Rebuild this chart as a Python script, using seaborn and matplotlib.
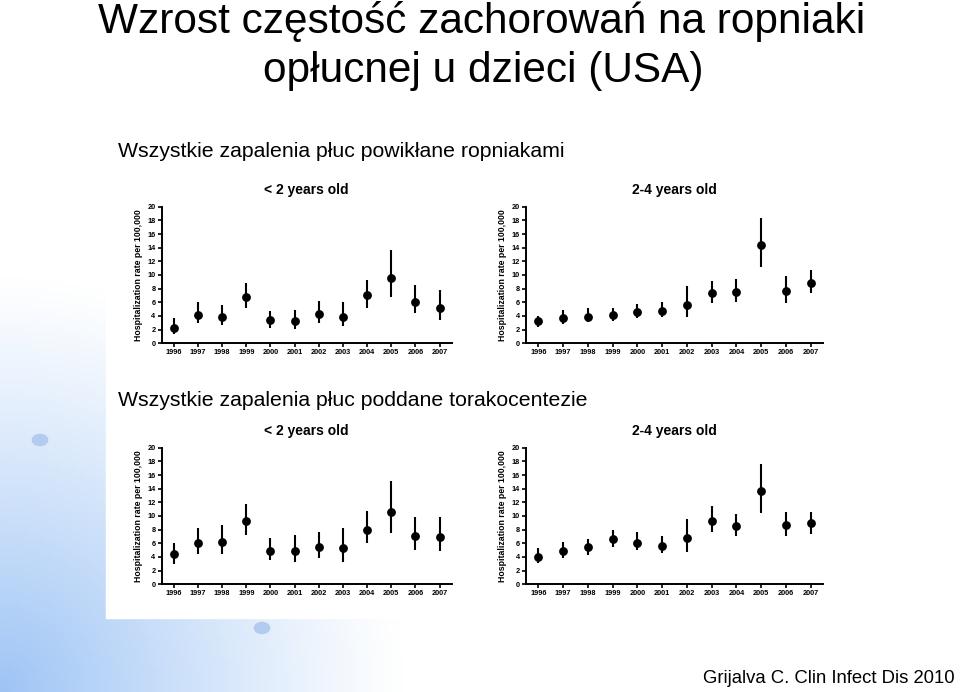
import matplotlib
matplotlib.use("Agg")
import matplotlib.pyplot as plt
import seaborn as sns
import numpy as np
import pandas as pd

# Data (hospitalization rate per 100,000, point + interval)
years = ["1996", "1997", "1998", "1999", "2000", "2001",
         "2002", "2003", "2004", "2005", "2006", "2007"]

# Top row: all pneumonia complicated by empyema
emp_u2_rate = [2.3, 4.15, 3.8, 6.7, 3.4, 3.2, 4.3, 3.9, 7.0, 9.6, 6.1, 5.1]
emp_u2_low = [1.3, 2.9, 2.6, 5.1, 2.3, 2.1, 3.0, 2.5, 5.2, 6.7, 4.4, 3.4]
emp_u2_high = [3.7, 6.0, 5.6, 8.8, 4.7, 4.9, 6.2, 6.0, 9.2, 13.7, 8.6, 7.8]

emp_24_rate = [3.2, 3.7, 3.9, 4.1, 4.5, 4.7, 5.6, 7.3, 7.5, 14.4, 7.6, 8.8]
emp_24_low = [2.4, 2.8, 3.1, 3.3, 3.7, 3.8, 3.8, 5.9, 6.0, 11.2, 5.9, 7.3]
emp_24_high = [4.0, 4.8, 5.1, 5.1, 5.7, 6.1, 8.4, 9.1, 9.4, 18.4, 9.8, 10.7]

# Bottom row: all pneumonia with thoracentesis
tho_u2_rate = [4.4, 6.0, 6.2, 9.2, 4.9, 4.8, 5.5, 5.3, 8.0, 10.6, 7.0, 6.9]
tho_u2_low = [3.0, 4.4, 4.4, 7.2, 3.5, 3.2, 3.8, 3.3, 6.0, 7.5, 5.0, 4.8]
tho_u2_high = [6.1, 8.3, 8.7, 11.7, 6.8, 7.2, 7.6, 8.2, 10.7, 15.1, 9.8, 9.9]

tho_24_rate = [4.0, 4.9, 5.4, 6.6, 6.1, 5.6, 6.7, 9.3, 8.5, 13.7, 8.7, 8.9]
tho_24_low = [3.1, 3.8, 4.3, 5.4, 5.0, 4.5, 4.7, 7.6, 7.1, 10.5, 7.1, 7.4]
tho_24_high = [5.3, 6.2, 6.6, 8.0, 7.6, 7.1, 9.6, 11.4, 10.3, 17.6, 10.6, 10.6]

panel_titles = ["< 2 years old", "2-4 years old"]
y_ticks = list(range(0, 21, 2))

sns.set_theme(style="ticks")
plt.rcParams['font.family'] = ['Liberation Sans', 'DejaVu Sans']
for key in ['text.color', 'axes.labelcolor', 'xtick.color', 'ytick.color', 'axes.edgecolor']:
    plt.rcParams[key] = 'black'

fig = plt.figure(figsize=(9.6, 6.92), dpi=100)

# slide background: soft blue wash from the lower left corner
bg = fig.add_axes([0, 0, 1, 1], zorder=-10)
gx, gy = np.meshgrid(np.linspace(0, 1, 240), np.linspace(0, 1, 173))
t = np.clip(1 - np.hypot(gx / 0.42, (1 - gy) / 0.6), 0, 1) ** 1.1
base = np.array([1.0, 1.0, 1.0])
blue = np.array([0.62, 0.77, 0.96])
img = base[None, None, :] * (1 - t[..., None]) + blue[None, None, :] * t[..., None]
bg.imshow(img, extent=[0, 1, 0, 1], aspect='auto', origin='upper')
# white picture area with the graphs
bg.add_patch(plt.Rectangle((106 / 960, 1 - 618 / 692), (830 - 106) / 960, (618 - 175) / 692,
                           color='white', zorder=2))
for cx, cy in [(40, 440), (262, 628)]:
    bg.add_patch(plt.Circle((cx / 960, 1 - cy / 692), 0.008, color='#b3cbee', zorder=3))
bg.set_xlim(0, 1)
bg.set_ylim(0, 1)
bg.axis('off')

panels = [
    ([161.7, 206.7], emp_u2_rate, emp_u2_low, emp_u2_high, panel_titles[0]),
    ([526.0, 206.7], emp_24_rate, emp_24_low, emp_24_high, panel_titles[1]),
    ([161.7, 447.7], tho_u2_rate, tho_u2_low, tho_u2_high, panel_titles[0]),
    ([526.0, 447.7], tho_24_rate, tho_24_low, tho_24_high, panel_titles[1]),
]

for (px, py), rate, low, high, title in panels:
    w = 290 if px < 300 else 297
    h = 136.5
    ax = fig.add_axes([px / 960, 1 - (py + h) / 692, w / 960, h / 692])
    df = pd.DataFrame({'year': years, 'rate': rate, 'low': low, 'high': high})
    ax.vlines(df['year'], df['low'], df['high'], color='black', linewidth=1.5, zorder=2)
    sns.scatterplot(data=df, x='year', y='rate', ax=ax, color='black', s=40,
                    edgecolor='black', linewidth=0, zorder=3, clip_on=False)
    ax.set_xlim(-0.5, 11.5)
    ax.set_ylim(0, 20)
    ax.set_yticks(y_ticks)
    ax.set_xlabel('')
    ax.set_ylabel('Hospitalization rate per 100,000', fontsize=6.3, fontweight='bold', labelpad=3)
    ax.set_title(title, fontsize=10, fontweight='bold', pad=9)
    ax.set_facecolor('none')
    for side in ['left', 'bottom']:
        ax.spines[side].set_linewidth(1.4)
    sns.despine(ax=ax)
    ax.tick_params(axis='both', width=1.2, length=3, pad=1.5, labelsize=5.3, direction='out')
    for lab in ax.get_xticklabels() + ax.get_yticklabels():
        lab.set_fontweight('bold')

fig.text(482 / 960, 1 - 33 / 692, "Wzrost częstość zachorowań na ropniaki",
         fontsize=30.5, ha='center', va='baseline')
fig.text(483 / 960, 1 - 82 / 692, "opłucnej u dzieci (USA)",
         fontsize=30.5, ha='center', va='baseline')
fig.text(118 / 960, 1 - 157 / 692, "Wszystkie zapalenia płuc powikłane ropniakami",
         fontsize=15.3, ha='left', va='baseline')
fig.text(118 / 960, 1 - 406 / 692, "Wszystkie zapalenia płuc poddane torakocentezie",
         fontsize=15.3, ha='left', va='baseline')
fig.text(955 / 960, 1 - 683 / 692, "Grijalva C. Clin Infect Dis 2010",
         fontsize=13.3, ha='right', va='baseline')

fig.savefig("out.png", dpi=100)
